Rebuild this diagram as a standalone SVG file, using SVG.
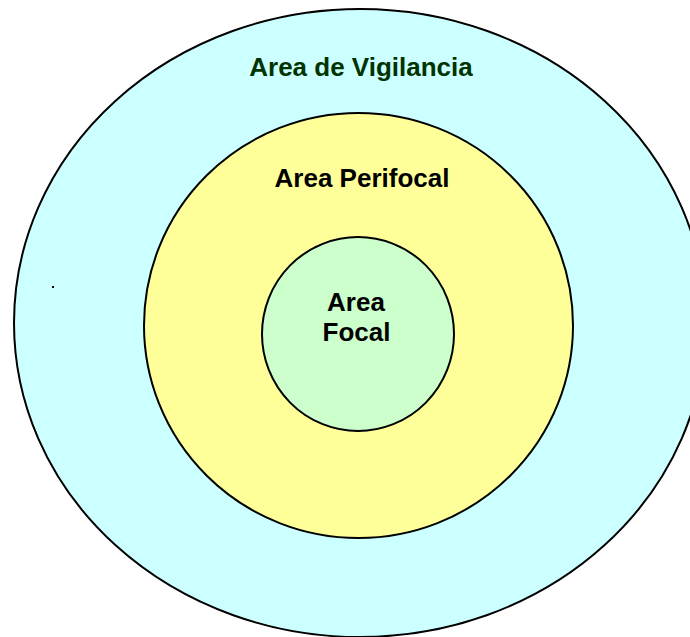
<svg xmlns="http://www.w3.org/2000/svg" width="690" height="637" viewBox="0 0 690 637">
<style>
.ring{stroke:#000;stroke-width:2}
.lbl{font-family:"Liberation Sans",Arial,sans-serif;font-weight:bold;font-size:26px;text-anchor:middle}
</style>
<rect width="690" height="637" fill="#fff"/>
<g id="vigilancia">
<ellipse class="ring" cx="360" cy="323" rx="346" ry="314" fill="#CCFFFF"/>
<text class="lbl" x="361" y="76" fill="#003300">Area de Vigilancia</text>
<rect x="52" y="286" width="2" height="2" fill="#000"/>
</g>
<g id="perifocal">
<ellipse class="ring" cx="358.5" cy="325.5" rx="214.5" ry="212.5" fill="#FFFF99"/>
<text class="lbl" x="362" y="187" fill="#000">Area Perifocal</text>
</g>
<g id="focal">
<ellipse class="ring" cx="358" cy="334" rx="96" ry="97" fill="#CCFFCC"/>
<text class="lbl" x="356" y="311" fill="#000">Area</text>
<text class="lbl" x="356.5" y="341" fill="#000">Focal</text>
</g>
<g id="connectors"/>
</svg>
